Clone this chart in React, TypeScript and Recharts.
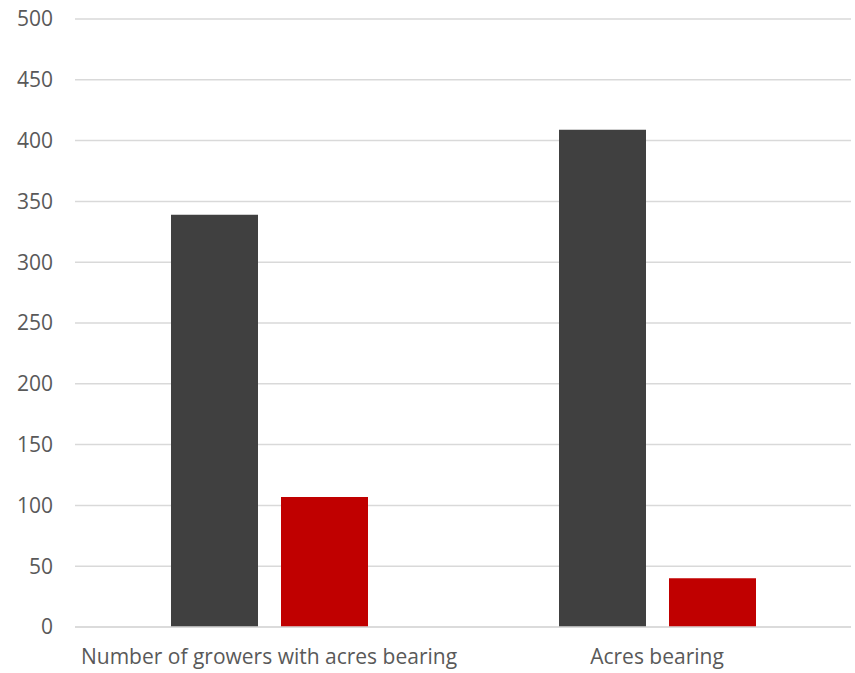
import { BarChart, Bar, XAxis, YAxis, CartesianGrid } from "recharts";

const categories = ["Number of growers with acres bearing", "Acres bearing"];
const darkValues = [339, 409];
const redValues = [107, 40];
const yTicks = [0, 50, 100, 150, 200, 250, 300, 350, 400, 450, 500];

const chartData = categories.map((name, i) => ({
  name,
  dark: darkValues[i],
  red: redValues[i],
}));

const tickStyle = { fill: "#595959", fontSize: 21, fontFamily: "'Open Sans', sans-serif" };

const App = () => {
  return (
    <div style={{ position: "absolute", left: 0, top: 0 }}>
      <BarChart
        width={855}
        height={673}
        data={chartData}
        margin={{ top: 19, right: 4, left: 0, bottom: 0 }}
        barSize={87}
        barGap={23}
      >
        <CartesianGrid vertical={false} stroke="#d9d9d9" strokeWidth={1.5} />
        <XAxis
          dataKey="name"
          height={46}
          tickLine={false}
          tickSize={0}
          tickMargin={22}
          axisLine={{ stroke: "#d9d9d9", strokeWidth: 1.5 }}
          tick={tickStyle}
          interval={0}
        />
        <YAxis
          width={75}
          domain={[0, 500]}
          ticks={yTicks}
          tickLine={false}
          axisLine={false}
          tickSize={0}
          tickMargin={22}
          tick={tickStyle}
        />
        <Bar dataKey="dark" fill="#404040" isAnimationActive={false} />
        <Bar dataKey="red" fill="#c00000" isAnimationActive={false} />
      </BarChart>
    </div>
  );
};

export default App;
